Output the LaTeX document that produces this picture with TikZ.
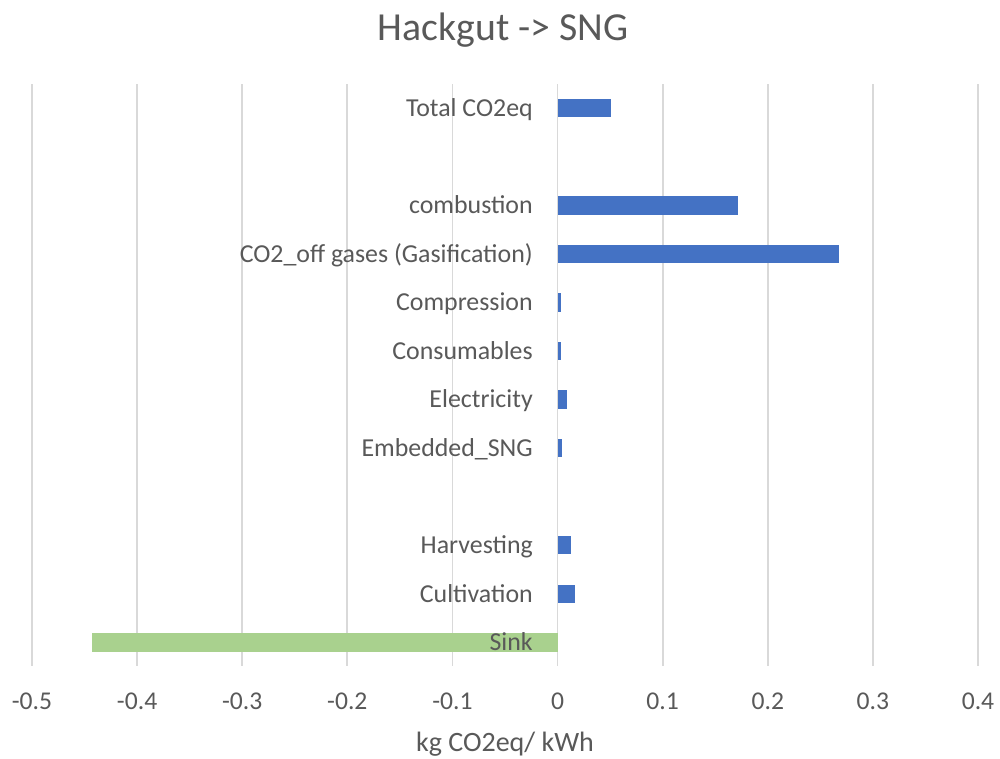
\documentclass[tikz,border=0pt]{standalone}
\usepackage{fontspec}
\setmainfont{Carlito}
\definecolor{txtgray}{HTML}{595959}
\definecolor{gridgray}{HTML}{D9D9D9}
\definecolor{barblue}{HTML}{4472C4}
\definecolor{bargreen}{HTML}{A9D18E}
\tikzset{
  gridline/.style={draw=gridgray, line width=1.3pt},
  catlabel/.style={anchor=base east, inner sep=0pt, text=txtgray, font=\fontsize{19.4}{22}\selectfont},
  ticklabel/.style={anchor=base, inner sep=0pt, text=txtgray, font=\fontsize{19.2}{22}\selectfont},
  titlelabel/.style={anchor=base, inner sep=0pt, text=txtgray, font=\fontsize{29.8}{34}\selectfont},
  axtitle/.style={anchor=base, inner sep=0pt, text=txtgray, font=\fontsize{21}{25}\selectfont},
  posbar/.style={fill=barblue},
  negbar/.style={fill=bargreen}
}
\begin{document}
\begin{tikzpicture}[x=0.75pt,y=-0.75pt]
\useasboundingbox (0,0) rectangle (1000,758);
\fill[white] (0,0) rectangle (1000,758);
% title
\node[titlelabel] (title) at (503,40) {Hackgut -> SNG};
% gridlines and tick labels
\foreach \lab [count=\i from 0] in {-0.5,-0.4,-0.3,-0.2,-0.1,0,0.1,0.2,0.3,0.4} {
  \pgfmathsetmacro{\xx}{32+105.11*\i}
  \draw[gridline] (\xx,84) -- (\xx,666);
  \node[ticklabel] (tick\i) at (\xx,709) {\lab};
}
% bars: row index / value
\foreach \r/\val/\nm in {0/0.0505/total, 2/0.172/comb, 3/0.268/offgas, 4/0.0032/compr, 5/0.0032/cons, 6/0.0088/elec, 7/0.0046/emb, 9/0.0125/harv, 10/0.0168/cult} {
  \pgfmathsetmacro{\yy}{84+48.55*(\r+0.5)}
  \fill[posbar] (557.5,\yy-9.2) rectangle (557.5+1051.1*\val,\yy+9.2);
}
\pgfmathsetmacro{\ys}{84+48.55*11.5}
\fill[negbar] (557.5,\ys-9.5) rectangle (92,\ys+9.5);
% category labels
\foreach \r/\lab/\nm in {0/{Total CO2eq}/ltotal, 2/combustion/lcomb, 3/{CO2\_off gases (Gasification)}/loffgas, 4/Compression/lcompr, 5/Consumables/lcons, 6/Electricity/lelec, 7/Embedded\_SNG/lemb, 9/Harvesting/lharv, 10/Cultivation/lcult, 11/Sink/lsink} {
  \pgfmathsetmacro{\yy}{84+48.55*(\r+0.5)+8.3}
  \node[catlabel] (\nm) at (533,\yy) {\lab};
}
% axis title
\node[axtitle] (xtitle) at (505,751) {kg CO2eq/ kWh};
\end{tikzpicture}
\end{document}
